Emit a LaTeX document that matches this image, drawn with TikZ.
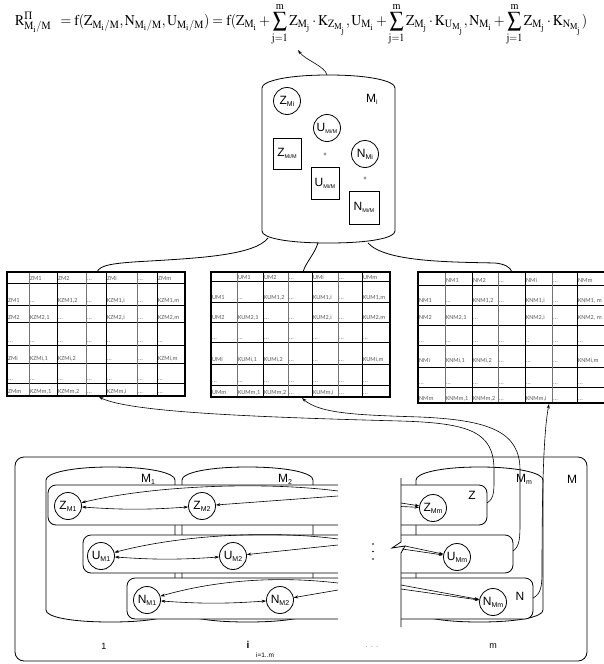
\documentclass[tikz,border=0pt]{standalone}
\usepackage{mathptmx}
\usepackage[no-math]{fontspec}
\setmainfont{Liberation Sans}
\newfontfamily\carl{Carlito}
\usetikzlibrary{arrows.meta}
\newcommand\sbs[1]{\raisebox{-0.3ex}{\fontsize{7}{7}\selectfont #1}}
\newcommand\sbss[1]{\raisebox{-0.3ex}{\fontsize{5.5}{5.5}\selectfont #1}}
% table row: #1 table letter, #2 baseline y, #3-#9 cell texts
\newcommand\trow[9]{%
  \node[cellt] (#1#2a) at (\csname #1a\endcsname,#2) {#3};
  \node[cellt] (#1#2b) at (\csname #1b\endcsname,#2) {#4};
  \node[cellt] (#1#2c) at (\csname #1c\endcsname,#2) {#5};
  \node[cellt] (#1#2d) at (\csname #1d\endcsname,#2) {#6};
  \node[cellt] (#1#2e) at (\csname #1e\endcsname,#2) {#7};
  \node[cellt] (#1#2f) at (\csname #1f\endcsname,#2) {#8};
  \node[cellt] (#1#2g) at (\csname #1g\endcsname,#2) {#9};}
\newcommand\cyl[4]{\draw[ln] (#1,#4-2) -- (#1,#3+3) .. controls (#1,#3-4) and (#1+25,#3-10) .. ({(#1+#2)/2},#3-10) .. controls (#2-25,#3-10) and (#2,#3-4) .. (#2,#3+3) -- (#2,#4-2) .. controls (#2,#4+5) and (#2-25,#4+10) .. ({(#1+#2)/2},#4+10) .. controls (#1+25,#4+10) and (#1,#4+5) .. (#1,#4-2) -- cycle;}
% column text x positions
\def\La{8}\def\Lb{30}\def\Lc{58}\def\Ld{87}\def\Le{107}\def\Lf{138}\def\Lg{158}
\def\Ca{212}\def\Cb{238}\def\Cc{264}\def\Cd{289}\def\Ce{313}\def\Cf{339}\def\Cg{363}
\def\Ra{419}\def\Rb{446}\def\Rc{473}\def\Rd{499}\def\Re{526}\def\Rf{553}\def\Rg{578}
\tikzset{
  ln/.style={line width=0.8pt},
  circ/.style={circle, draw, line width=0.8pt, minimum size=27pt, inner sep=0pt, fill=white, font=\fontsize{12}{12}\selectfont},
  sq/.style={rectangle, draw, line width=0.8pt, inner sep=0pt, font=\fontsize{12}{12}\selectfont},
  lab/.style={inner sep=0pt, font=\fontsize{12}{12}\selectfont},
  rowbox/.style={draw, fill=white, rounded corners=8pt, line width=0.8pt},
  arr/.style={-{Stealth[length=4.5pt,width=3pt]}, line width=0.6pt},
  darr/.style={{Stealth[length=4.5pt,width=3pt]}-{Stealth[length=4.5pt,width=3pt]}, line width=0.6pt},
  cellt/.style={inner sep=0pt, anchor=base west, text=black!65, font=\fontsize{6.2}{6.5}\carl},
  thin/.style={line width=1.0pt},
  gthin/.style={line width=0.9pt, black!55},
  frame/.style={line width=1.8pt},
}
\begin{document}
\begin{tikzpicture}[x=1pt,y=-1pt]
\useasboundingbox (0,0) rectangle (603,664);
% formula
\node[inner sep=0pt, anchor=west] (formula) at (15,24) {\resizebox*{572pt}{42pt}{$\displaystyle\mathrm{R^{\Pi}_{M_i/M}\;\;= f(Z_{M_i/M},N_{M_i/M},U_{M_i/M}) = f(Z_{M_i} + \sum_{j=1}^{m} Z_{M_j}\cdot K_{Z_{M_j}},U_{M_i} + \sum_{j=1}^{m} Z_{M_j}\cdot K_{U_{M_j}},N_{M_i} + \sum_{j=1}^{m} Z_{M_j}\cdot K_{N_{M_j}})}$}};
\coordinate (ftip) at (298,50);
% Mi cylinder
\cyl{262}{395}{85}{233}
\coordinate (mitop) at (327,75);
\draw[arr] (mitop) .. controls (325,66) and (305,60) .. (ftip);
\node[circ] (ZMi) at (287,101) {Z\sbs{Mi}};
\node[lab] (MiL) at (372,99) {M\sbs{i}};
\node[circ] (UMiM) at (327,128) {U\sbss{Mi/M}};
\node[sq, minimum width=28pt, minimum height=31pt] (ZMiMq) at (287,153.5) {Z\sbss{Mi/M}};
\node[inner sep=0pt, font=\fontsize{6}{6}\selectfont] (plus1) at (325,155) {+};
\node[circ] (NMi) at (365,154) {N\sbs{Mi}};
\node[sq, minimum width=28pt, minimum height=32pt] (UMiMq) at (325,183) {U\sbss{Mi/M}};
\node[inner sep=0pt, font=\fontsize{6}{6}\selectfont] (plus2) at (365,179) {+};
\node[sq, minimum width=30pt, minimum height=33pt] (NMiMq) at (364,207.5) {N\sbss{Mi/M}};
% links Mi -> tables
\coordinate (mib1) at (268,238);
\coordinate (mib2) at (318,243);
\coordinate (mib3) at (368,243);
\coordinate (ltop) at (97,272);
\coordinate (ctop) at (303,272);
\coordinate (rtop) at (512,272);
\draw[ln] (mib1) .. controls (255,255) and (200,258) .. (150,261) .. controls (112,263) and (100,265) .. (ltop);
\draw[ln] (mib2) .. controls (314,255) and (306,262) .. (ctop);
\draw[ln] (mib3) .. controls (385,262) and (450,262) .. (495,263) .. controls (505,264) and (510,267) .. (rtop);
% ---------- left table
\draw[thin] foreach \y in {283,305,322,345,363,383} {(7,\y) -- (185,\y)};
\draw[gthin] foreach \x in {29,86,137} {(\x,272) -- (\x,396)};
\draw[thin] foreach \x in {57,106,157} {(\x,272) -- (\x,396)};
\draw[frame] (7,272) rectangle (185,396);
\trow{L}{280.5}{}{ZM1}{ZM2}{...}{ZMi}{...}{ZMm}
\trow{L}{302}{ZM1}{...}{KZM1,2}{...}{KZM1,i}{...}{KZM1,m}
\trow{L}{319}{ZM2}{KZM2,1}{...}{...}{KZM2,i}{...}{KZM2,m}
\trow{L}{342}{...}{...}{...}{...}{..}{...}{...}
\trow{L}{360}{ZMi}{KZMi,1}{KZMi,2}{}{...}{...}{KZMi,m}
\trow{L}{380}{...}{...}{...}{...}{...}{...}{...}
\trow{L}{393.5}{ZMm}{KZMm,1}{KZMm,2}{...}{KZMm,i}{...}{...}
% ---------- middle table
\draw[thin] foreach \y in {281,302,322,342,364,385} {(211,\y) -- (390,\y)};
\draw[gthin] foreach \x in {237,288,338} {(\x,272) -- (\x,397)};
\draw[thin] foreach \x in {263,312,362} {(\x,272) -- (\x,397)};
\draw[frame] (211,272) rectangle (390,397);
\trow{C}{279}{}{UM1}{UM2}{...}{UMi}{...}{UMm}
\trow{C}{299}{UM1}{...}{KUM1,2}{...}{KUM1,i}{...}{KUM1,m}
\trow{C}{319}{UM2}{KUM2,1}{...}{...}{KUM2,i}{...}{KUM2,m}
\trow{C}{339}{...}{...}{...}{...}{...}{...}{...}
\trow{C}{361}{UMi}{KUMi,1}{KUMi,2}{...}{...}{...}{KUMi,m}
\trow{C}{382}{...}{...}{...}{...}{...}{...}{...}
\trow{C}{394.5}{UMm}{KUMm,1}{KUMm,2}{...}{KUMm,i}{...}{...}
% ---------- right table
\draw[thin] foreach \y in {285,305,325,345,367,387} {(418,\y) -- (612,\y)};
\draw[gthin] foreach \x in {445,498,552} {(\x,272) -- (\x,403)};
\draw[thin] foreach \x in {472,525,577} {(\x,272) -- (\x,403)};
\draw[frame] (418,272) rectangle (612,403);
\trow{R}{282}{}{NM1}{NM2}{...}{NMi}{...}{NMm}
\trow{R}{302}{NM1}{...}{KNM1,2}{...}{KNM1,i}{...}{KNM1, m}
\trow{R}{319}{NM2}{KNM2,1}{...}{}{KNM2,i}{...}{KNM2, m}
\trow{R}{342}{...}{...}{...}{...}{..}{...}{...}
\trow{R}{362}{NMi}{KNMi,1}{KNMi,2}{...}{...}{...}{KNMi,m}
\trow{R}{384}{...}{...}{...}{...}{...}{...}{...}
\trow{R}{400}{NMm}{KNMm,1}{KNMm,2}{...}{KNMm,i}{...}{...}
\coordinate (lbot) at (99,397);
\coordinate (cbot) at (302,398);
\coordinate (rbot) at (549,404);
% ---------- bottom system M
\draw[ln, rounded corners=9pt] (15,457) rectangle (587,661);
\node[lab] (Mlab) at (572,479) {M};
\cyl{46}{175}{477}{612}
\cyl{182}{313}{477}{612}
\cyl{416}{543}{477}{612}
\node[lab] (M1lab) at (148,479) {M\sbs{1}};
\node[lab] (M2lab) at (285,479) {M\sbs{2}};
\node[lab] (Mmlab) at (524,479) {M\sbs{m}};
% row boxes
\draw[rowbox] (338,485) -- (48,485) -- (48,525) -- (338,525);
\draw[rowbox] (401,485) -- (487,485) -- (487,525) -- (401,525);
\draw[rowbox] (338,535) -- (83,535) -- (83,573) -- (338,573);
\draw[rowbox] (401,535) -- (513,535) -- (513,573) -- (401,573);
\draw[rowbox] (338,578) -- (127,578) -- (127,619) -- (338,619);
\draw[rowbox] (401,578) -- (533,578) -- (533,619) -- (401,619);
\node[lab] (Zlab) at (472,495) {Z};
\node[lab] (Nlab) at (520,596) {N};
% break line
\draw[ln] (401,478) -- (401,542) -- (392,548) -- (405,546) -- (401,553) -- (401,627);
\fill (373,544) circle (0.9) (373,551.5) circle (0.9) (373,559) circle (0.9);
% circles
\node[circ] (ZM1) at (68,506) {Z\sbs{M1}};
\node[circ] (ZM2) at (202,506) {Z\sbs{M2}};
\node[circ] (ZMm) at (433,508) {Z\sbs{Mm}};
\node[circ] (UM1) at (101,556) {U\sbs{M1}};
\node[circ] (UM2) at (233,556) {U\sbs{M2}};
\node[circ] (UMm) at (457,557) {U\sbs{Mm}};
\node[circ] (NM1) at (147,600) {N\sbs{M1}};
\node[circ] (NM2) at (280,600) {N\sbs{M2}};
\node[circ] (NMm) at (493,602) {N\sbs{Mm}};
% Z row arrows
\draw[darr] (ZM1) to[bend right=4] (ZM2);
\coordinate (zb1) at (338,491);
\coordinate (zb2) at (338,496);
\coordinate (zc1) at (401,503);
\coordinate (zc2) at (401,506.5);
\draw[arr] (zb1) .. controls (260,481) and (150,486) .. (ZM1);
\draw[arr] (zb2) -- (ZM2);
\draw[arr] (zc1) -- (ZMm);
\draw[arr] (zc2) -- (ZMm);
% U row arrows
\draw[darr] (UM1) to[bend right=4] (UM2);
\coordinate (ub1) at (338,539);
\coordinate (ub2) at (338,545);
\coordinate (uc1) at (405,546);
\coordinate (uc2) at (402,549);
\draw[arr] (ub1) .. controls (270,530) and (180,535) .. (UM1);
\draw[arr] (ub2) -- (UM2);
\draw[arr] (uc1) -- (UMm);
\draw[arr] (uc2) -- (UMm);
% N row arrows
\draw[darr] (NM1) to[bend right=4] (NM2);
\coordinate (nb1) at (338,583);
\coordinate (nb2) at (338,590);
\coordinate (nc1) at (401,585);
\coordinate (nc2) at (401,589);
\draw[arr] (nb1) .. controls (270,575) and (210,582) .. (NM1);
\draw[arr] (nb2) -- (NM2);
\draw[arr] (nc1) -- (NMm);
\draw[arr] (nc2) -- (NMm);
% long curves to tables
\coordinate (zs) at (487,503);
\coordinate (us) at (513,551);
\coordinate (ns) at (533,598);
\draw[arr] (zs) .. controls (495,498) and (494,490) .. (494,470) .. controls (494,432) and (470,423) .. (400,421) .. controls (250,417) and (130,412) .. (lbot);
\draw[arr] (us) .. controls (520,546) and (520,538) .. (520,520) -- (520,470) .. controls (520,432) and (490,420) .. (420,417) .. controls (360,415) and (320,414) .. (cbot);
\draw[arr] (ns) .. controls (541,594) and (542,586) .. (542,572) .. controls (542,480) and (544,430) .. (rbot);
% bottom labels
\node[inner sep=0pt, font=\fontsize{9}{9}\selectfont] (l1) at (104,646) {1};
\node[inner sep=0pt, font=\fontsize{10}{10}\selectfont\bfseries] (li) at (248,645) {i};
\node[inner sep=0pt, font=\fontsize{6.5}{6.5}\selectfont] (lim) at (265,655) {i=1..m};
\node[inner sep=0pt, font=\fontsize{8}{8}\selectfont, text=black!50] (ldots) at (372,647) {. . .};
\node[inner sep=0pt, font=\fontsize{9}{9}\selectfont] (lm) at (493,646) {m};
\end{tikzpicture}
\end{document}
